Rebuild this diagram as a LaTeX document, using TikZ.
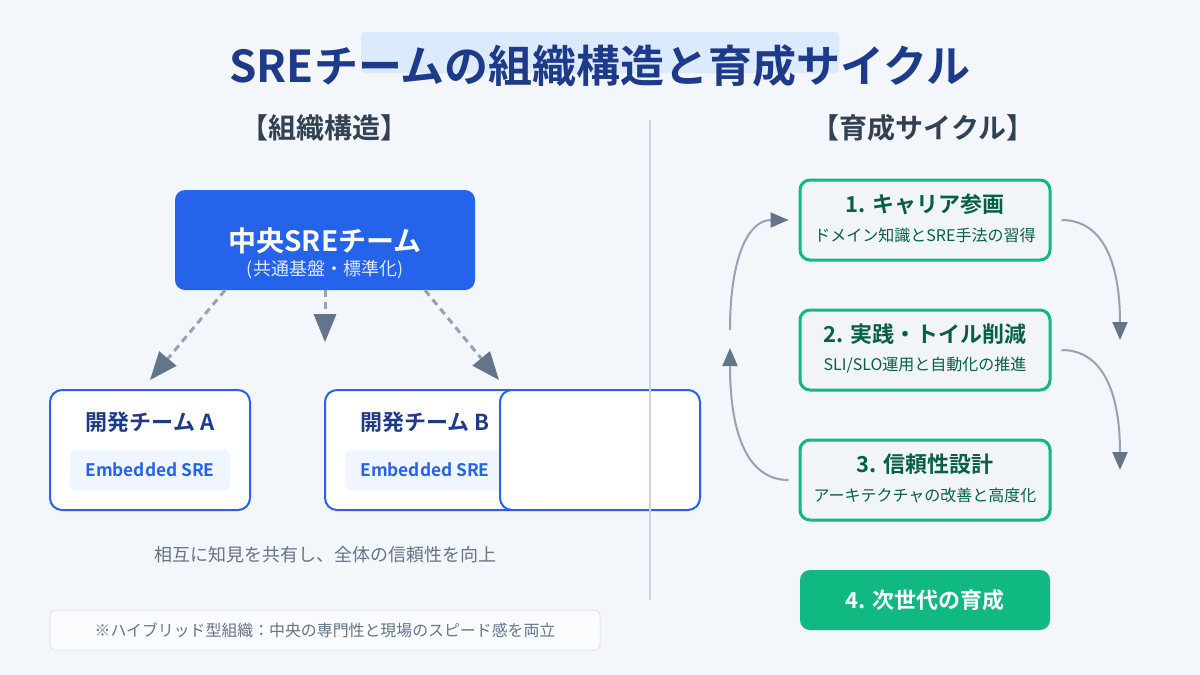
\documentclass[tikz,border=0pt]{standalone}
\usepackage{fontspec}
\setmainfont{Noto Sans CJK JP}[BoldFont={Noto Sans CJK JP Bold}]
\usepackage{xcolor}
\usepackage{tikz}
\usetikzlibrary{arrows.meta,positioning,calc}
\definecolor{Paper}{HTML}{F3F6FA}
\definecolor{Royal}{HTML}{2563EB}
\definecolor{Ink}{HTML}{1E3A8A}
\definecolor{Slate}{HTML}{334155}
\definecolor{Steel}{HTML}{64748B}
\definecolor{Haze}{HTML}{94A3B8}
\definecolor{Rule}{HTML}{CBD5E1}
\definecolor{SkyTint}{HTML}{DBEAFE}
\definecolor{IceBlue}{HTML}{EFF6FF}
\definecolor{Frame}{HTML}{E2E8F0}
\definecolor{Cloud}{HTML}{F1F5F9}
\definecolor{Emerald}{HTML}{10B981}
\definecolor{Forest}{HTML}{065F46}

\begin{document}
\begin{tikzpicture}[
  x=1pt,y=-1pt,
  every node/.style={inner sep=0pt,align=center},
  secthead/.style={font=\fontsize{28}{32}\selectfont\bfseries,text=Slate},
  hubbox/.style={rounded corners=10pt,fill=Royal,minimum width=300pt,minimum height=100pt},
  teambox/.style={rounded corners=12pt,draw=Royal,line width=2pt,fill=white,minimum width=200pt,minimum height=120pt},
  teamname/.style={font=\fontsize{22}{26}\selectfont\bfseries,text=Ink},
  pill/.style={rounded corners=6pt,fill=IceBlue,minimum width=160pt,minimum height=40pt,text=Royal,font=\fontsize{17.3}{20}\selectfont\bfseries},
  cyclebox/.style={rounded corners=10pt,draw=Emerald,line width=3pt,fill=Cloud,minimum width=250pt,minimum height=80pt},
  cyclehead/.style={font=\fontsize{22}{26}\selectfont\bfseries,text=Forest},
  cyclesub/.style={font=\fontsize{16}{19}\selectfont,text=Forest},
  note/.style={font=\fontsize{18}{21}\selectfont,text=Steel},
  dasharr/.style={-{Triangle[length=28pt,width=22pt,color=Steel]},Haze,line width=3pt,dash pattern=on 7pt off 5pt},
  looparr/.style={-{Triangle[length=18pt,width=15pt,color=Steel]},Haze,line width=2pt}
]
\fill[Paper] (0,0) rectangle (1200,675);
\useasboundingbox (0,0) rectangle (1200,675);
\fill[SkyTint,rounded corners=4pt] (361,32) rectangle (839,73);
\node[font=\fontsize{44}{48}\selectfont\bfseries,text=Ink] (title) at (600,66) {SREチームの組織構造と育成サイクル};
\node[secthead] (lefthead) at (324,128) {【組織構造】};
\node[secthead] (righthead) at (923,128) {【育成サイクル】};

\node[hubbox] (hub) at (325,240) {};
\node[font=\fontsize{28}{32}\selectfont\bfseries,text=white,yshift=-1pt] (hubname) at (hub.center) {中央SREチーム};
\node[font=\fontsize{18}{21}\selectfont,text=SkyTint,yshift=-29.5pt] (hubsub) at (hub.center) {(共通基盤・標準化)};

\node[teambox] (teamA) at (150,450) {};
\node[teamname,yshift=28pt] (nameA) at (teamA.center) {開発チーム A};
\node[pill,yshift=-20pt] (sreA) at (teamA.center) {Embedded SRE};
\node[teambox] (teamB) at (425,450) {};
\node[teamname,yshift=28pt] (nameB) at (teamB.center) {開発チーム B};
\node[pill,yshift=-20pt] (sreB) at (teamB.center) {Embedded SRE};
\node[teambox] (spare) at (600,450) {};

\draw[dasharr] ([xshift=-100pt]hub.south) -- ([yshift=9pt]teamA.north);
\draw[dasharr] (hub.south) -- ([yshift=-52pt]hub.south);
\draw[dasharr] ([xshift=100pt]hub.south) -- ([yshift=9pt]spare.north west);

\node[note] (share) at (325,555) {相互に知見を共有し、全体の信頼性を向上};
\node[rounded corners=6pt,draw=Frame,line width=1pt,fill=Paper!40!white,minimum width=550pt,minimum height=40pt,
  font=\fontsize{15.9}{18}\selectfont,text=Steel] (hybrid) at (325,630) {※ハイブリッド型組織：中央の専門性と現場のスピード感を両立};

\draw[Rule,line width=2pt] (650,120) -- (650,600);

\node[cyclebox] (c1) at (925,220) {};
\node[cyclehead,yshift=16pt] (c1head) at (c1.center) {1. キャリア参画};
\node[cyclesub,yshift=-15pt] (c1sub) at (c1.center) {ドメイン知識とSRE手法の習得};
\node[cyclebox] (c2) at (925,350) {};
\node[cyclehead,yshift=16pt] (c2head) at (c2.center) {2. 実践・トイル削減};
\node[cyclesub,yshift=-15pt] (c2sub) at (c2.center) {SLI/SLO運用と自動化の推進};
\node[cyclebox] (c3) at (925,480) {};
\node[cyclehead,yshift=16pt] (c3head) at (c3.center) {3. 信頼性設計};
\node[cyclesub,yshift=-15pt] (c3sub) at (c3.center) {アーキテクチャの改善と高度化};
\node[rounded corners=10pt,fill=Emerald,minimum width=250pt,minimum height=60pt,
  font=\fontsize{22}{26}\selectfont\bfseries,text=white] (c4) at (925,600) {4. 次世代の育成};

\coordinate (down1) at (1120,340);
\coordinate (down2) at (1120,470);
\coordinate (up1) at (730,348);
\coordinate (up2) at (730,330);
\draw[looparr] ([xshift=10pt]c1.east) .. controls +(40,0) and +(0,-80) .. (down1);
\draw[looparr] ([xshift=10pt]c2.east) .. controls +(40,0) and +(0,-80) .. (down2);
\draw[looparr] ([xshift=-10pt]c3.west) .. controls +(-40,0) and +(0,88) .. (up1);
\draw[looparr] (up2) .. controls +(0,-73) and +(-40,0) .. ([xshift=-10pt]c1.west);
\end{tikzpicture}
\end{document}
